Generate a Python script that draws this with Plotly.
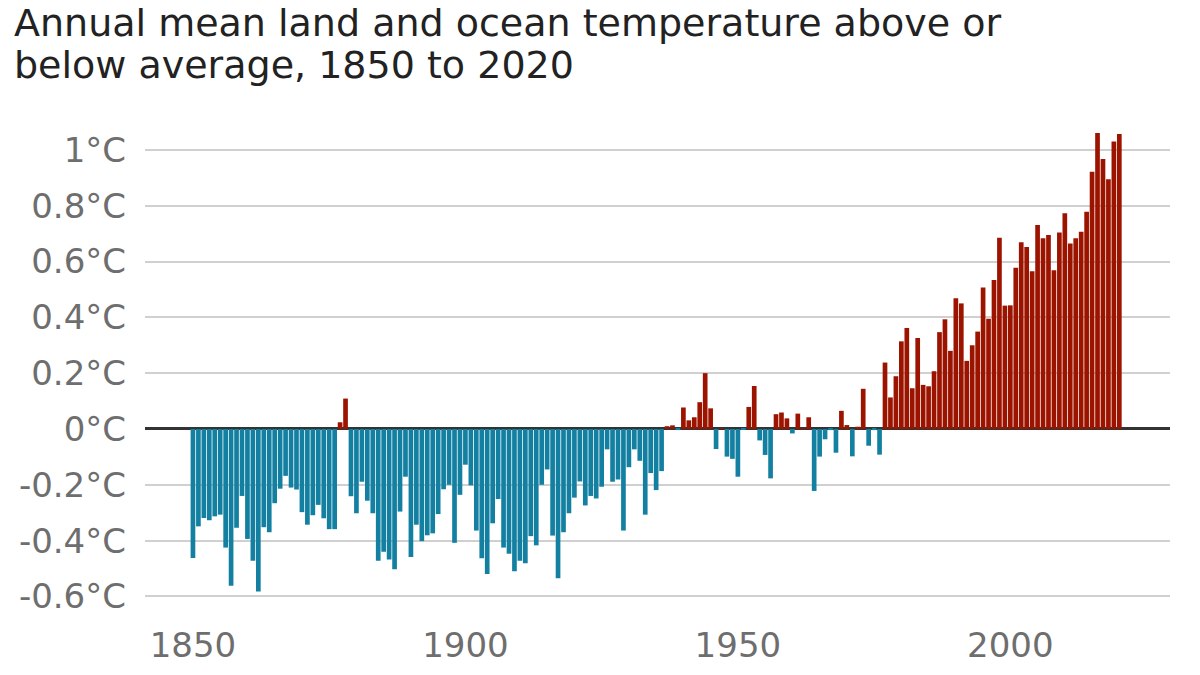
import plotly.graph_objects as go

# annual anomaly vs average, deg C
years = list(range(1850, 2021))
anomaly = [
    -0.462, -0.349, -0.319, -0.327, -0.313, -0.307, -0.425, -0.562, -0.354, -0.240,  # 1850s
    -0.394, -0.472, -0.582, -0.352, -0.370, -0.266, -0.214, -0.168, -0.210, -0.217,  # 1860s
    -0.298, -0.343, -0.309, -0.272, -0.320, -0.359, -0.359, 0.024, 0.109, -0.241,    # 1870s
    -0.302, -0.189, -0.257, -0.302, -0.472, -0.440, -0.468, -0.503, -0.296, -0.171,  # 1880s
    -0.459, -0.343, -0.402, -0.381, -0.374, -0.305, -0.216, -0.200, -0.408, -0.236,  # 1890s
    -0.128, -0.202, -0.364, -0.463, -0.520, -0.338, -0.251, -0.425, -0.447, -0.510,  # 1900s
    -0.472, -0.481, -0.384, -0.417, -0.200, -0.145, -0.382, -0.535, -0.370, -0.302,  # 1910s
    -0.246, -0.188, -0.274, -0.240, -0.249, -0.207, -0.073, -0.189, -0.181, -0.364,  # 1920s
    -0.137, -0.073, -0.114, -0.307, -0.158, -0.219, -0.151, 0.010, 0.013, -0.004,    # 1930s
    0.077, 0.031, 0.042, 0.096, 0.200, 0.074, -0.072, 0.002, -0.099, -0.107,         # 1940s
    -0.171, -0.002, 0.079, 0.154, -0.041, -0.093, -0.177, 0.053, 0.059, 0.038,       # 1950s
    -0.016, 0.055, 0.002, 0.042, -0.222, -0.099, -0.037, -0.004, -0.085, 0.065,      # 1960s
    0.014, -0.098, 0.008, 0.144, -0.060, -0.004, -0.092, 0.238, 0.113, 0.189,        # 1970s
    0.314, 0.362, 0.146, 0.326, 0.158, 0.153, 0.207, 0.347, 0.393, 0.280,            # 1980s
    0.468, 0.450, 0.244, 0.300, 0.349, 0.507, 0.395, 0.534, 0.685, 0.442,            # 1990s
    0.443, 0.578, 0.669, 0.652, 0.565, 0.731, 0.683, 0.695, 0.569, 0.704,            # 2000s
    0.773, 0.665, 0.683, 0.707, 0.778, 0.922, 1.061, 0.967, 0.895, 1.030,            # 2010s
    1.057,                                                                           # 2020
]

y_ticks = [-0.6, -0.4, -0.2, 0, 0.2, 0.4, 0.6, 0.8, 1]
y_labels = ["-0.6°C", "-0.4°C", "-0.2°C", "0°C", "0.2°C", "0.4°C", "0.6°C", "0.8°C", "1°C"]
x_ticks = [1850, 1900, 1950, 2000]

title_lines = ["Annual mean land and ocean temperature above or",
               "below average, 1850 to 2020"]

RED = "#9c1400"
BLUE = "#1380a1"
colors = [RED if v > 0 else BLUE for v in anomaly]

fig = go.Figure()
fig.add_trace(go.Bar(x=years, y=anomaly, marker=dict(color=colors, line=dict(width=0)),
                     hoverinfo="x+y"))

# plot area: 145..1170 px wide, 122..602 px tall
fig.update_layout(
    width=1200, height=675,
    margin=dict(l=145, r=30, t=122, b=73),
    plot_bgcolor="white", paper_bgcolor="white",
    bargap=0.14,
    showlegend=False,
    font=dict(family="DejaVu Sans", color="#6e6e6e", size=34),
)
fig.update_xaxes(range=[1841.2, 2029.3], tickvals=x_ticks, showgrid=False, zeroline=False,
                 showline=False, ticks="", ticklabelstandoff=20, automargin=False,
                 tickfont=dict(size=34, color="#6e6e6e"))
fig.update_yaxes(range=[-0.62, 1.1], tickvals=y_ticks, ticktext=y_labels,
                 showgrid=True, gridcolor="#d0d0d0", gridwidth=1.5,
                 zeroline=True, zerolinecolor="#333333", zerolinewidth=3,
                 layer="above traces", ticks="", ticklabelstandoff=18, automargin=False,
                 tickfont=dict(size=34, color="#6e6e6e"))

# two-line title, one annotation per line so the line spacing can be set
for i, line in enumerate(title_lines):
    top_px = -1 + 42 * i
    fig.add_annotation(text=line, xref="paper", yref="paper",
                       x=(12 - 145) / 1025, y=1 + (122 - top_px) / 480,
                       xanchor="left", yanchor="top", showarrow=False,
                       font=dict(family="DejaVu Sans", size=38, color="#222222"))

fig.write_html("out.html", config={"displayModeBar": False},
               post_script="document.body.style.margin = '0';")
